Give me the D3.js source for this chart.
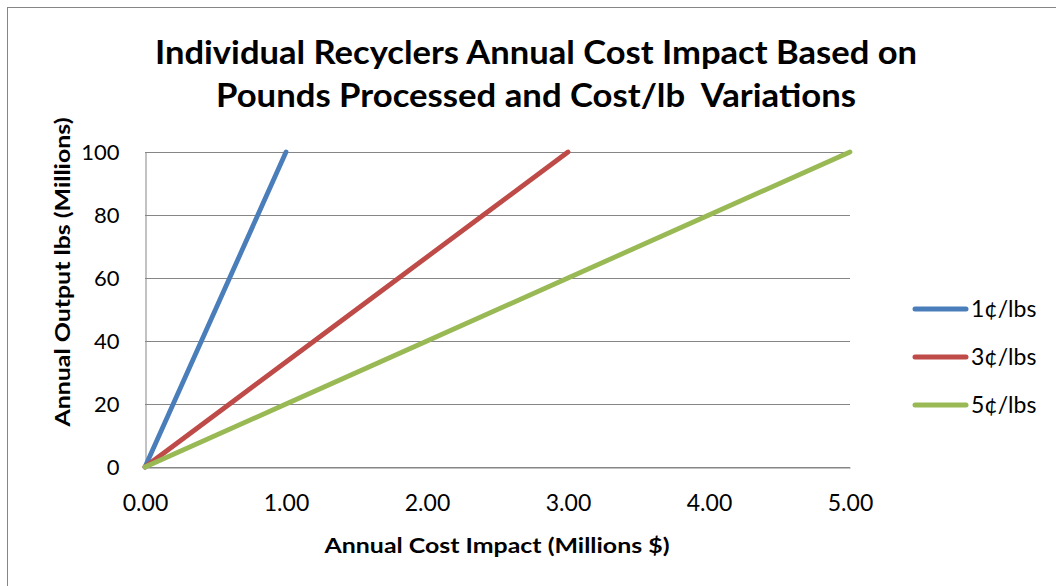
<!DOCTYPE html>
<html>
<head>
<meta charset="utf-8">
<script src="https://cdn.jsdelivr.net/npm/d3@7"></script>
<style>
  html, body { margin: 0; padding: 0; background: #fff; }
  svg { display: block; }
  text { font-family: Lato, "Open Sans", "DejaVu Sans", sans-serif; fill: #000; }
</style>
</head>
<body>
<script>
// Annual output in millions of pounds
const pounds = [0, 20, 40, 60, 80, 100];
// Annual cost impact in millions of dollars, per cost rate
const cost1c = [0, 0.2, 0.4, 0.6, 0.8, 1.0];
const cost3c = [0, 0.6, 1.2, 1.8, 2.4, 3.0];
const cost5c = [0, 1.0, 2.0, 3.0, 4.0, 5.0];
const seriesNames = ["1¢/lbs", "3¢/lbs", "5¢/lbs"];
const seriesColors = ["#4A7EBB", "#BE4B48", "#98B954"];
const xTicks = [0, 1, 2, 3, 4, 5];
const yTicks = [0, 20, 40, 60, 80, 100];

const W = 1056, H = 586;
const svg = d3.select("body").append("svg").attr("width", W).attr("height", H);

// chart frame
svg.append("rect").attr("x", 7.5).attr("y", 7.5).attr("width", W + 20).attr("height", H + 20)
  .attr("fill", "#fff").attr("stroke", "#868686").attr("stroke-width", 1);

const x = d3.scaleLinear().domain([0, 5]).range([145, 850]);
const y = d3.scaleLinear().domain([0, 100]).range([467, 152]);

// horizontal gridlines
svg.append("g").selectAll("line").data(yTicks).join("line")
  .attr("x1", x(0)).attr("x2", x(5))
  .attr("y1", d => Math.round(y(d)) + 0.5).attr("y2", d => Math.round(y(d)) + 0.5)
  .attr("stroke", "#868686").attr("stroke-width", 1);

// y axis
const yAxis = svg.append("g").attr("transform", `translate(${Math.round(x(0)) + 0.5},0)`)
  .call(d3.axisLeft(y).tickValues(yTicks).tickSize(0).tickPadding(26));
yAxis.select(".domain").attr("stroke", "#868686");
yAxis.selectAll("text").style("font-size", "22px").attr("dy", "0.36em").style("fill", "#000");

// x axis
const xAxis = svg.append("g").attr("transform", `translate(0,${Math.round(y(0)) + 0.5})`)
  .call(d3.axisBottom(x).tickValues(xTicks).tickSize(0).tickPadding(27).tickFormat(d3.format(".2f")));
xAxis.select(".domain").attr("stroke", "#868686");
xAxis.selectAll("text").style("font-size", "23px").style("fill", "#000");

// series lines
const series = [cost1c, cost3c, cost5c].map((c, i) => ({
  name: seriesNames[i], color: seriesColors[i],
  values: pounds.map((p, j) => ({ cost: c[j], lbs: p }))
}));
const line = d3.line().x(d => x(d.cost)).y(d => y(d.lbs));
svg.append("g").selectAll("path").data(series).join("path")
  .attr("d", d => line(d.values))
  .attr("fill", "none").attr("stroke", d => d.color)
  .attr("stroke-width", 4.8).attr("stroke-linecap", "round").attr("stroke-linejoin", "round");

// title
const title = svg.append("text").attr("text-anchor", "middle")
  .style("font-size", "32px").style("font-weight", "bold");
title.append("tspan").attr("x", 536).attr("y", 64).text("Individual Recyclers Annual Cost Impact Based on")
  .attr("textLength", 762).attr("lengthAdjust", "spacingAndGlyphs");
title.append("tspan").attr("x", 536).attr("y", 107).text("Pounds Processed and Cost/lb  Variations")
  .attr("textLength", 640).attr("lengthAdjust", "spacingAndGlyphs").style("white-space", "pre");

// axis titles
svg.append("text").attr("x", 497).attr("y", 553).attr("text-anchor", "middle")
  .style("font-size", "21px").style("font-weight", "bold")
  .attr("textLength", 345).attr("lengthAdjust", "spacingAndGlyphs")
  .text("Annual Cost Impact (Millions $)");
svg.append("text").attr("transform", "translate(70,272) rotate(-90)").attr("text-anchor", "middle")
  .style("font-size", "21px").style("font-weight", "bold")
  .attr("textLength", 309).attr("lengthAdjust", "spacingAndGlyphs")
  .text("Annual Output lbs (Millions)");

// legend
const legend = svg.append("g").selectAll("g").data(series).join("g")
  .attr("transform", (d, i) => `translate(0,${[309, 357, 405][i]})`);
legend.append("line").attr("x1", 915).attr("x2", 966)
  .attr("stroke", d => d.color).attr("stroke-width", 5).attr("stroke-linecap", "round");
legend.append("text").attr("x", 971).attr("dy", "0.36em")
  .style("font-size", "23px").text(d => d.name);
</script>
</body>
</html>
